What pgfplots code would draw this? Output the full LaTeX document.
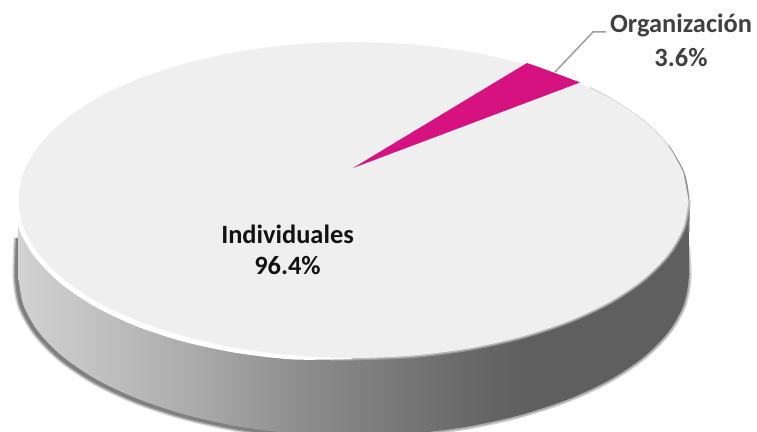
\documentclass[border=0pt]{standalone}
\usepackage{pgfplots}
\pgfplotsset{compat=1.18}
\usepackage{fontspec}
\setmainfont{Carlito}
\definecolor{topc}{HTML}{EFEFEF}
\definecolor{wedge}{HTML}{D61280}
\definecolor{labc}{HTML}{404040}
\definecolor{sidedark}{HTML}{5F5F5F}
\pgfdeclarehorizontalshading{sideshade}{100bp}{
 rgb(0bp)=(.824,.824,.824); rgb(25bp)=(.824,.824,.824); rgb(31.1bp)=(.753,.753,.753);
 rgb(38.5bp)=(.663,.663,.663); rgb(46bp)=(.557,.557,.557); rgb(53.5bp)=(.467,.467,.467);
 rgb(59.4bp)=(.40,.40,.40); rgb(63.2bp)=(.373,.373,.373); rgb(100bp)=(.373,.373,.373)}
\begin{document}
\begin{tikzpicture}
\begin{axis}[
  width=757bp, height=432bp, scale only axis,
  xmin=0, xmax=757, ymin=0, ymax=432, y dir=reverse,
  axis lines=none, ticks=none,
]
% --- page background, keeps the full frame
\addplot[fill=white, draw=none] coordinates {(0,0)(757,0)(757,432)(0,432)} -- cycle;
% --- soft shadow, left of the base
\addplot[smooth, draw=black!75, opacity=.18, line width=9bp] coordinates {(18,238)(17,278)(22,306.4)(37,333)(61.4,358)(94.9,380.6)(136.2,400)(184,415.8)(236.9,427.5)(293.3,434.6)};
\addplot[smooth, draw=black!75, opacity=.30, line width=6.5bp] coordinates {(18,238)(17,278)(22,306.4)(37,333)(61.4,358)(94.9,380.6)(136.2,400)(184,415.8)(236.9,427.5)(293.3,434.6)};
\addplot[smooth, draw=black!75, opacity=.40, line width=4bp] coordinates {(18,238)(17,278)(22,306.4)(37,333)(61.4,358)(94.9,380.6)(136.2,400)(184,415.8)(236.9,427.5)(293.3,434.6)};
% --- soft edge, right of the base
\addplot[smooth, draw=sidedark, opacity=.25, line width=6bp] coordinates {(353.5,436)(411.7,433.6)(468.1,426.5)(521,414.8)(568.8,399)(610.1,379.6)(643.6,357)(668.3,332)(683.4,305.4)(688.5,278)(687,245)};
\addplot[smooth, draw=sidedark, opacity=.35, line width=3.5bp] coordinates {(353.5,436)(411.7,433.6)(468.1,426.5)(521,414.8)(568.8,399)(610.1,379.6)(643.6,357)(668.3,332)(683.4,305.4)(688.5,278)(687,245)};
% --- side of the disc
\addplot[shading=sideshade, draw=none] coordinates {(18.5,200)(688.5,200)(688.5,278)(18.5,278)} -- cycle;
\addplot[smooth, shading=sideshade, draw=none] coordinates {
(18.5,278)(23.6,305.4)(38.7,332)(63.4,357)(96.9,379.6)(138.2,399)(186,414.8)(238.9,426.5)(295.3,433.6)(353.5,436)
(411.7,433.6)(468.1,426.5)(521,414.8)(568.8,399)(610.1,379.6)(643.6,357)(668.3,332)(683.4,305.4)(688.5,278)
(683.4,250.6)(668.3,224)(643.6,199)(610.1,176.4)(568.8,157)(521,141.2)(468.1,129.5)(411.7,122.4)(353.5,120)
(295.3,122.4)(238.9,129.5)(186,141.2)(138.2,157)(96.9,176.4)(63.4,199)(38.7,224)(23.6,250.6)} -- cycle;
% --- rim on the right
\addplot[smooth, draw=black!35, opacity=.45, line width=2bp] coordinates {(590,88)(610.1,98.4)(643.6,121)(668.3,146)(683.4,172.6)(688.5,200)};
\addplot[smooth, draw=black!50, opacity=.8, line width=2bp] coordinates {(668.3,146)(683.4,172.6)(688.5,200)(688.5,232)};
% --- soft edge of the top on the dark side
\addplot[smooth, draw=black!28, opacity=.5, line width=5bp] coordinates {(330,358)(353.5,358)(411.7,355.6)(468.1,348.5)(521,336.8)(568.8,321)(610.1,301.6)(643.6,279)(668.3,254)(683.4,227.4)(688.5,200)};
\addplot[smooth, draw=black!20, opacity=.7, line width=2.8bp] coordinates {(330,358)(353.5,358)(411.7,355.6)(468.1,348.5)(521,336.8)(568.8,321)(610.1,301.6)(643.6,279)(668.3,254)(683.4,227.4)(688.5,200)};
% --- white rim, lower left
\addplot[smooth, fill=white, draw=none] coordinates {(200,200)(30,165)(21,178)(15.5,190)(14,200)(19,229)(34.5,256.5)(59.5,282.5)(93,305.5)(134.5,325.5)(183,341.5)(237,353)(294,359.5)(352,359)} -- cycle;
% --- top of the disc
\addplot[smooth, fill=topc, draw=none] coordinates {
(688.5,200)(683.4,227.4)(668.3,254)(643.6,279)(610.1,301.6)(568.8,321)(521,336.8)(468.1,348.5)(411.7,355.6)(353.5,358)
(295.3,355.6)(238.9,348.5)(186,336.8)(138.2,321)(96.9,301.6)(63.4,279)(38.7,254)(23.6,227.4)(18.5,200)
(23.6,172.6)(38.7,146)(63.4,121)(96.9,98.4)(138.2,79)(186,63.2)(238.9,51.5)(295.3,44.4)(353.5,42)
(411.7,44.4)(468.1,51.5)(521,63.2)(568.8,79)(610.1,98.4)(643.6,121)(668.3,146)(683.4,172.6)} -- cycle;
% --- Organización slice
\addplot[fill=wedge, draw=none] coordinates {(353,168)(527,63)(540,67.5)(553.5,72.5)(567,77.5)(580,82.5)} -- cycle;
% --- leader
\addplot[draw=black!38, line width=1.5bp] coordinates {(555,72)(593,32)(606,32)};
\node[font=\fontsize{26.5}{30}\selectfont\bfseries, text=labc] at (axis cs:681,25) {Organización};
\node[font=\fontsize{26.5}{30}\selectfont\bfseries, text=labc] at (axis cs:681,58) {3.6\%};
\node[font=\fontsize{26.5}{30}\selectfont\bfseries, text=black!93] at (axis cs:287.5,234) {Individuales};
\node[font=\fontsize{26.5}{30}\selectfont\bfseries, text=black!93] at (axis cs:287.5,266) {96.4\%};
\end{axis}
\end{tikzpicture}
\end{document}
